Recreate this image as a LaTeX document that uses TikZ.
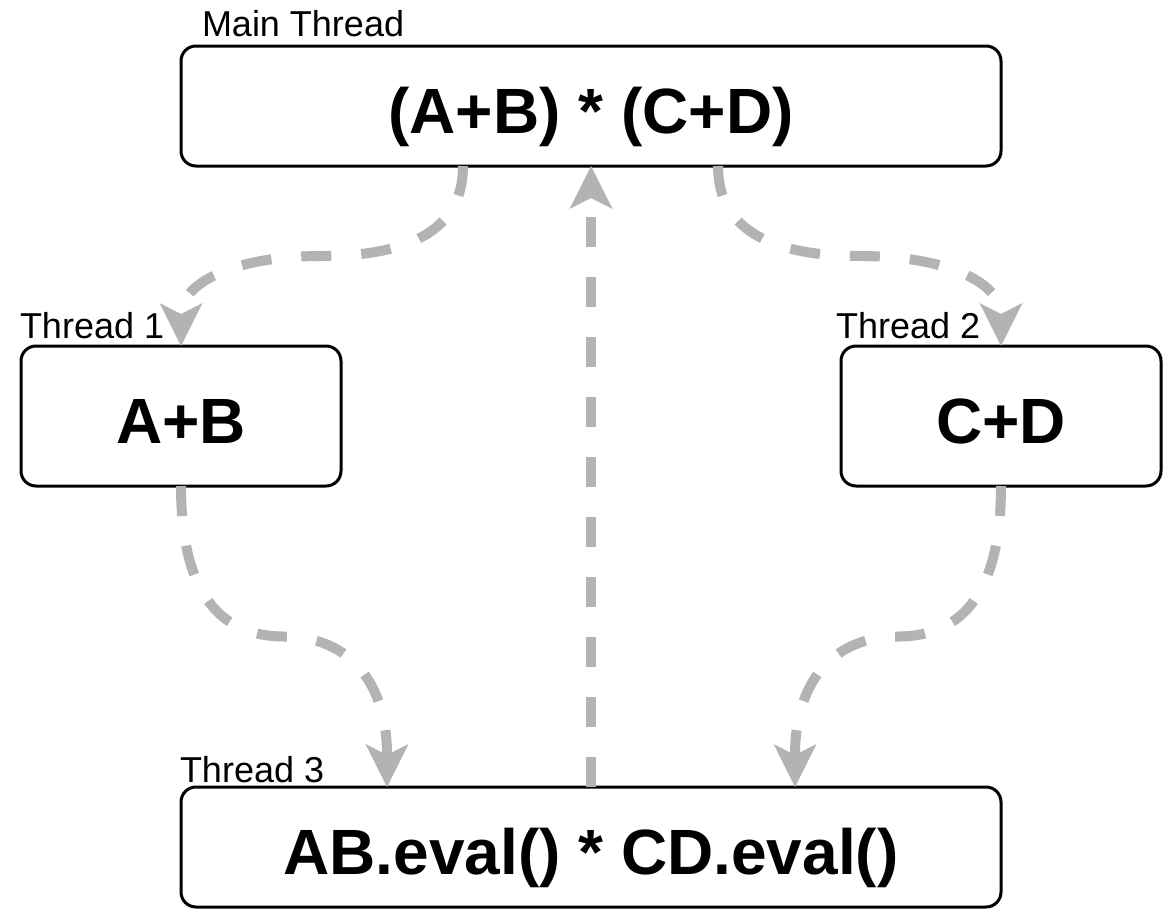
\documentclass[tikz,border=0pt]{standalone}
\usepackage{fontspec}
\setmainfont{Liberation Sans}
\usetikzlibrary{arrows.meta,calc,positioning}
\definecolor{flowGray}{RGB}{179,179,179}

\begin{document}
\begin{tikzpicture}[x=0.5pt,y=-0.5pt,
    every node/.style={inner sep=0pt,outer sep=0pt},
    task/.style={draw,line width=1.5pt,rounded corners=7.5pt,font=\fontsize{32}{38}\selectfont\bfseries,text height=27.8pt,text depth=0pt},
    taskWide/.style={task,minimum width=410pt,minimum height=60pt},
    taskSmall/.style={task,minimum width=160pt,minimum height=70pt},
    thread/.style={anchor=base west,font=\fontsize{18}{22}\selectfont},
    flow/.style={draw=flowGray,line width=5pt,dash pattern=on 15pt off 15pt,
      -{Stealth[length=21.5pt,width=21.5pt,inset=5.5pt,line width=0pt,fill=flowGray]}},
    ]
    \useasboundingbox (0,0) rectangle (1164,910);

    \node[taskWide] (main) at (591,106) {(A+B) * (C+D)};
    \node[taskSmall] (ab) at (181,416) {A+B};
    \node[taskSmall] (cd) at (1001,416) {C+D};
    \node[taskWide] (eval) at (591,847) {AB.eval() * CD.eval()};

    \node[thread] (mainLbl) at (202,37) {Main Thread};
    \node[thread] (abLbl) at (20,338) {Thread 1};
    \node[thread] (cdLbl) at (836,338) {Thread 2};
    \node[thread] (evalLbl) at (180,782) {Thread 3};

    \coordinate (ms1) at ($(main.south)+(-128,0)$);
    \coordinate (ms2) at ($(main.south)+(127,0)$);
    \coordinate (ev1) at ($(eval.north)+(-204,0)$);
    \coordinate (ev2) at ($(eval.north)+(204,0)$);
    \coordinate (mid1) at ($(ms1)!.5!(ab.north)$);
    \coordinate (mid2) at ($(ms2)!.5!(cd.north)$);
    \coordinate (mid3) at ($(ab.south)!.5!(ev1)$);
    \coordinate (mid4) at ($(cd.south)!.5!(ev2)$);

    \draw[flow] (ms1) .. controls +(0,60) and +(94,0) .. (mid1) .. controls +(-94,0) and +(0,-60) .. (ab.north);
    \draw[flow] (ms2) .. controls +(0,60) and +(-94,0) .. (mid2) .. controls +(94,0) and +(0,-60) .. (cd.north);
    \draw[flow] (ab.south) .. controls +(0,100) and +(-69,0) .. (mid3) .. controls +(69,0) and +(0,-100) .. (ev1);
    \draw[flow] (cd.south) .. controls +(0,100) and +(69,0) .. (mid4) .. controls +(-69,0) and +(0,-100) .. (ev2);
    \draw[flow] (eval.north) -- (main.south);
\end{tikzpicture}
\end{document}
